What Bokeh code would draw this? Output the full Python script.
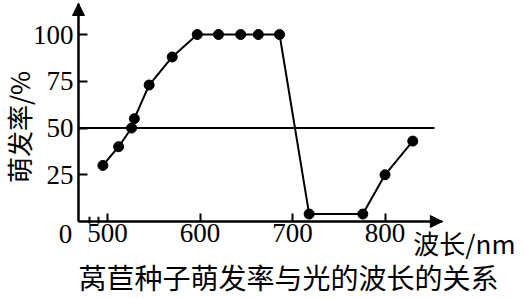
from math import pi
from bokeh.plotting import figure
from bokeh.models import Arrow, NormalHead, Label, FixedTicker
from bokeh.embed import file_html
from bokeh.resources import INLINE

# data
wavelength = [495, 512, 526, 529, 545, 570, 597, 620, 644, 663, 686, 718, 776, 800, 830]
germination = [30, 40, 50, 55, 73, 88, 100, 100, 100, 100, 100, 4, 4, 25, 43]
x_ticks = [500, 600, 700, 800]
y_ticks = [25, 50, 75, 100]
ref_level = 50
break_marks = [480.5, 490.2]
title_text = "莴苣种子萌发率与光的波长的关系"
y_label = "萌发率/%"
x_label = "波长/nm"

# axis extents (data units) and the full view
x0, x1 = 468.6, 862
y0, y1 = 0, 116.6
view_x = (384.3, 951.9)
view_y = (-41.7, 118.2)
SERIF = "Liberation Serif"
CJK = "Noto Sans CJK SC"

p = figure(width=525, height=299, x_range=view_x, y_range=view_y,
           min_border=0, output_backend="svg", toolbar_location=None)
p.outline_line_color = None
p.xgrid.visible = False
p.ygrid.visible = False
p.background_fill_color = "white"
p.border_fill_color = "white"

for ax in (p.xaxis[0], p.yaxis[0]):
    ax.axis_line_width = 2
    ax.axis_line_color = "black"
    ax.major_tick_line_width = 2
    ax.major_tick_line_color = "black"
    ax.major_tick_out = 0
    ax.minor_tick_line_color = None
    ax.major_label_text_font = SERIF
    ax.major_label_text_font_size = "27px"
    ax.major_label_text_color = "black"

xa = p.xaxis[0]
xa.fixed_location = y0
xa.bounds = (x0, x1)
xa.ticker = FixedTicker(ticks=x_ticks)
xa.major_tick_in = 8
xa.major_label_standoff = 2

ya = p.yaxis[0]
ya.fixed_location = x0
ya.bounds = (y0, y1)
ya.ticker = FixedTicker(ticks=y_ticks)
ya.major_tick_in = 9
ya.major_label_standoff = 5

# axis arrows
p.add_layout(Arrow(end=NormalHead(size=12, fill_color="black", line_color="black"),
                   x_start=x0, y_start=y0, x_end=x0, y_end=y1, line_width=2, line_color="black"))
p.add_layout(Arrow(end=NormalHead(size=12, fill_color="black", line_color="black"),
                   x_start=x0, y_start=y0, x_end=x1, y_end=y0, line_width=2, line_color="black"))

# axis break marks
p.segment(x0=break_marks, y0=[-1, -1], x1=break_marks, y1=[2.5, 2.5], line_width=2, line_color="black")

# reference line at 50
p.segment(x0=[x0], y0=[ref_level], x1=[853.5], y1=[ref_level], line_width=2, line_color="black")

# data
p.line(wavelength, germination, line_width=2, line_color="black")
p.scatter(wavelength, germination, size=10, fill_color="black", line_color="black")

# texts
p.add_layout(Label(x=x0, y=y0, x_offset=-13, y_offset=-12, text="0", text_font=SERIF,
                   text_font_size="27px", text_align="center", text_baseline="middle",
                   text_color="black"))
p.add_layout(Label(x=x0, y=ref_level, x_offset=-60, y_offset=1, text=y_label, angle=pi / 2,
                   text_font=CJK, text_font_size="26px", text_align="center", text_baseline="middle",
                   text_color="black"))
p.add_layout(Label(x=x1, y=y0, x_offset=-29, y_offset=-21, text=x_label,
                   text_font=CJK, text_font_size="26px", text_align="left", text_baseline="middle",
                   text_color="black"))
p.add_layout(Label(x=x0, y=y0, x_offset=210, y_offset=-55, text=title_text,
                   text_font=CJK, text_font_size="28px", text_align="center", text_baseline="middle",
                   text_color="black"))

open("out.html", "w").write(file_html(p, INLINE))
